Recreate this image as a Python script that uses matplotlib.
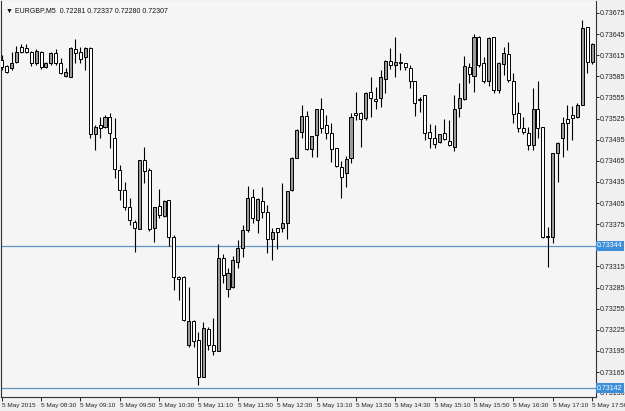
import matplotlib
matplotlib.use('Agg')
import matplotlib.pyplot as plt
import matplotlib.transforms as mtransforms
import numpy as np

# EURGBP M5 bars, 5 May 2015 from 07:50
opens = [0.73608, 0.73600, 0.73597, 0.73605, 0.73627, 0.73625, 0.73620, 0.73604, 0.73620, 0.73598,
         0.73604, 0.73618, 0.73604, 0.73586, 0.73584, 0.73624, 0.73620, 0.73612, 0.73625, 0.73503,
         0.73516, 0.73513, 0.73527, 0.73497, 0.73452, 0.73424, 0.73399, 0.73378, 0.73368, 0.73466,
         0.73452, 0.73370, 0.73401, 0.73387, 0.73409, 0.73357, 0.73300, 0.73300, 0.73203, 0.73238,
         0.73211, 0.73158, 0.73226, 0.73203, 0.73195, 0.73327, 0.73283, 0.73286, 0.73321, 0.73341,
         0.73367, 0.73414, 0.73381, 0.73408, 0.73392, 0.73354, 0.73370, 0.73370, 0.73377, 0.73424,
         0.73469, 0.73506, 0.73529, 0.73482, 0.73502, 0.73539, 0.73516, 0.73505, 0.73483, 0.73456,
         0.73448, 0.73469, 0.73533, 0.73533, 0.73526, 0.73563, 0.73553, 0.73554, 0.73581, 0.73607,
         0.73601, 0.73604, 0.73604, 0.73597, 0.73578, 0.73551, 0.73558, 0.73506, 0.73497, 0.73492,
         0.73505, 0.73493, 0.73485, 0.73540, 0.73553, 0.73598, 0.73586, 0.73641, 0.73604, 0.73578,
         0.73641, 0.73566, 0.73603, 0.73617, 0.73578, 0.73533, 0.73512, 0.73505, 0.73487, 0.73539,
         0.73513, 0.73357, 0.73357, 0.73476, 0.73497, 0.73524, 0.73530, 0.73527, 0.73544, 0.73655,
         0.73605]
highs = [0.73615, 0.73601, 0.73620, 0.73628, 0.73631, 0.73631, 0.73621, 0.73624, 0.73621, 0.73605,
         0.73620, 0.73624, 0.73611, 0.73597, 0.73627, 0.73638, 0.73627, 0.73627, 0.73627, 0.73516,
         0.73527, 0.73530, 0.73533, 0.73526, 0.73459, 0.73435, 0.73412, 0.73381, 0.73466, 0.73485,
         0.73455, 0.73399, 0.73425, 0.73409, 0.73409, 0.73360, 0.73301, 0.73301, 0.73286, 0.73239,
         0.73222, 0.73236, 0.73229, 0.73242, 0.73347, 0.73333, 0.73313, 0.73330, 0.73353, 0.73374,
         0.73429, 0.73425, 0.73412, 0.73428, 0.73402, 0.73370, 0.73370, 0.73434, 0.73422, 0.73470,
         0.73510, 0.73544, 0.73536, 0.73500, 0.73539, 0.73554, 0.73530, 0.73519, 0.73483, 0.73465,
         0.73472, 0.73533, 0.73563, 0.73534, 0.73563, 0.73584, 0.73570, 0.73594, 0.73608, 0.73625,
         0.73641, 0.73618, 0.73604, 0.73601, 0.73578, 0.73556, 0.73558, 0.73517, 0.73516, 0.73503,
         0.73524, 0.73523, 0.73558, 0.73576, 0.73614, 0.73604, 0.73645, 0.73642, 0.73612, 0.73641,
         0.73641, 0.73605, 0.73627, 0.73634, 0.73590, 0.73549, 0.73527, 0.73513, 0.73568, 0.73578,
         0.73513, 0.73371, 0.73476, 0.73492, 0.73527, 0.73544, 0.73543, 0.73547, 0.73665, 0.73655,
         0.73632]
lows = [0.73594, 0.73590, 0.73594, 0.73604, 0.73618, 0.73618, 0.73600, 0.73601, 0.73595, 0.73597,
        0.73601, 0.73601, 0.73588, 0.73584, 0.73584, 0.73604, 0.73604, 0.73594, 0.73497, 0.73480,
        0.73497, 0.73512, 0.73483, 0.73441, 0.73409, 0.73395, 0.73374, 0.73335, 0.73368, 0.73434,
        0.73365, 0.73350, 0.73384, 0.73385, 0.73344, 0.73282, 0.73267, 0.73238, 0.73200, 0.73200,
        0.73147, 0.73158, 0.73196, 0.73189, 0.73195, 0.73291, 0.73272, 0.73284, 0.73313, 0.73328,
        0.73364, 0.73377, 0.73362, 0.73384, 0.73334, 0.73324, 0.73340, 0.73364, 0.73354, 0.73422,
        0.73469, 0.73497, 0.73480, 0.73470, 0.73470, 0.73505, 0.73496, 0.73463, 0.73456, 0.73412,
        0.73428, 0.73462, 0.73523, 0.73485, 0.73523, 0.73527, 0.73539, 0.73541, 0.73561, 0.73595,
        0.73584, 0.73594, 0.73594, 0.73568, 0.73529, 0.73534, 0.73495, 0.73483, 0.73483, 0.73490,
        0.73495, 0.73486, 0.73479, 0.73527, 0.73551, 0.73576, 0.73563, 0.73598, 0.73576, 0.73571,
        0.73561, 0.73561, 0.73587, 0.73577, 0.73519, 0.73506, 0.73503, 0.73480, 0.73480, 0.73497,
        0.73355, 0.73314, 0.73348, 0.73435, 0.73470, 0.73480, 0.73495, 0.73526, 0.73544, 0.73590,
        0.73603]
closes = [0.73598, 0.73591, 0.73604, 0.73620, 0.73620, 0.73620, 0.73604, 0.73621, 0.73598, 0.73604,
          0.73618, 0.73604, 0.73590, 0.73591, 0.73625, 0.73618, 0.73610, 0.73625, 0.73503, 0.73513,
          0.73512, 0.73527, 0.73505, 0.73453, 0.73424, 0.73399, 0.73381, 0.73370, 0.73466, 0.73451,
          0.73368, 0.73399, 0.73388, 0.73408, 0.73357, 0.73300, 0.73297, 0.73239, 0.73238, 0.73209,
          0.73158, 0.73228, 0.73203, 0.73195, 0.73327, 0.73303, 0.73306, 0.73324, 0.73341, 0.73367,
          0.73412, 0.73384, 0.73411, 0.73392, 0.73354, 0.73364, 0.73364, 0.73377, 0.73422, 0.73469,
          0.73509, 0.73529, 0.73482, 0.73500, 0.73539, 0.73512, 0.73505, 0.73482, 0.73458, 0.73442,
          0.73468, 0.73527, 0.73530, 0.73524, 0.73561, 0.73554, 0.73550, 0.73584, 0.73607, 0.73601,
          0.73605, 0.73603, 0.73598, 0.73578, 0.73547, 0.73550, 0.73505, 0.73497, 0.73489, 0.73503,
          0.73496, 0.73487, 0.73539, 0.73554, 0.73600, 0.73588, 0.73641, 0.73601, 0.73578, 0.73639,
          0.73566, 0.73604, 0.73618, 0.73580, 0.73532, 0.73512, 0.73506, 0.73487, 0.73539, 0.73512,
          0.73357, 0.73356, 0.73476, 0.73490, 0.73519, 0.73519, 0.73526, 0.73544, 0.73654, 0.73605,
          0.73631]

time_labels = ['5 May 2015', '5 May 08:30', '5 May 09:10', '5 May 09:50', '5 May 10:30',
               '5 May 11:10', '5 May 11:50', '5 May 12:30', '5 May 13:10', '5 May 13:50',
               '5 May 14:30', '5 May 15:10', '5 May 15:50', '5 May 16:30', '5 May 17:10',
               '5 May 17:50']
price_ticks = [0.73675, 0.73645, 0.73615, 0.73585, 0.73555, 0.73525, 0.73495, 0.73465, 0.73435,
               0.73405, 0.73375, 0.73315, 0.73285, 0.73255, 0.73225, 0.73195, 0.73165, 0.73136]
hlines = [0.73344, 0.73142]

title = '\u25bc EURGBP,M5  0.72281 0.72337 0.72280 0.72307'

bg = '#f0f0f0'
plot_bg = '#f5f5f5'
line_col = '#5a93c4'
box_col = '#3d8fd9'
fnt = 'Liberation Sans'
fs = 5

fig = plt.figure(figsize=(6.25, 4.11), dpi=100, facecolor=bg)
ax = fig.add_axes([1 / 625, 1 - 397 / 411, 595 / 625, 396 / 411], facecolor=plot_bg)

o = np.array(opens)
h = np.array(highs)
l = np.array(lows)
c = np.array(closes)
x = np.arange(len(o))
up = c >= o

# wicks then bodies
ax.vlines(x, l, h, color='black', linewidth=0.8, zorder=2)
body = np.where(np.abs(c - o) < 0.000015, 0.000015, c - o)
ax.bar(x, body, bottom=o, width=0.62,
       color=np.where(up, '#9a9a9a', 'white'), edgecolor='black', linewidth=0.7, zorder=3)

for v in hlines:
    ax.axhline(v, color=line_col, linewidth=0.9, zorder=1)

ax.set_xlim(-0.14, 120.8)
ax.set_ylim(0.731295, 0.73692)

# time axis
ax.set_xticks(np.arange(0, 121, 8))
ax.set_xticklabels(time_labels, fontsize=4.6, family=fnt, ha='left', color='#222222')
ax.tick_params(axis='x', length=3, width=0.6, pad=1)

# price axis on right
ax.yaxis.tick_right()
ax.set_yticks(price_ticks)
ax.set_yticklabels(['%.5f' % p for p in price_ticks], fontsize=fs, family=fnt, color='#222222')
ax.tick_params(axis='y', length=2, width=0.6, pad=0.5)

trans = mtransforms.blended_transform_factory(ax.transAxes, ax.transData)
for v in hlines:
    ax.text(1.002, v, '%.5f' % v, transform=trans, fontsize=fs, family=fnt, color='white',
            va='center', ha='left', zorder=10,
            bbox=dict(boxstyle='square,pad=0.2', facecolor=box_col, edgecolor='none'))

for side in ['left', 'right', 'bottom']:
    ax.spines[side].set_color('#333333')
    ax.spines[side].set_linewidth(0.8)
ax.spines['top'].set_visible(False)

ax.text(0.008, 0.985, title, transform=ax.transAxes, fontsize=fs, family=fnt, va='top',
        ha='left', color='#111111')

fig.savefig('out.png', dpi=100, facecolor=bg)
